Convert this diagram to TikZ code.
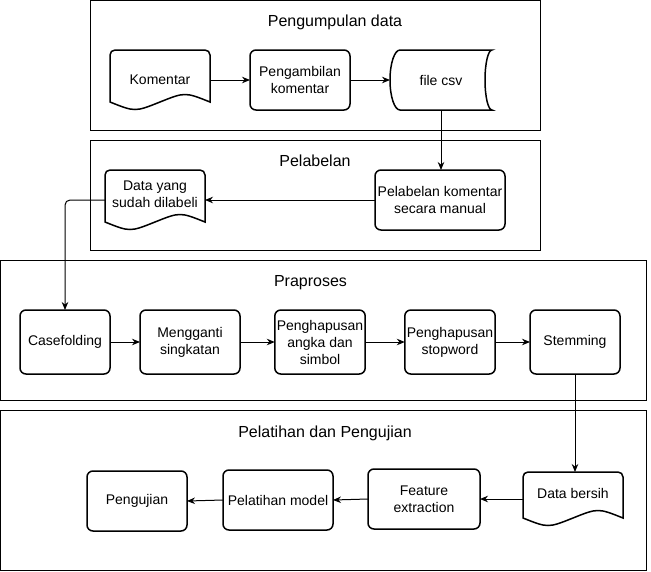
\documentclass[tikz,border=0pt]{standalone}
\usepackage{fontspec}
\setmainfont{Liberation Sans}
\usepackage{tikz}
\usetikzlibrary{calc, arrows.meta}
\tikzset{
  every node/.append style={font=\fontsize{14pt}{17pt}\selectfont},
  proses/.style={draw, line width=1.5pt, rounded corners=6pt, align=center, inner sep=2pt, outer sep=0pt},
  dokumen/.style={align=center, inner sep=2pt, outer sep=0pt},
  judul/.style={font=\fontsize{16pt}{19pt}\selectfont, anchor=base},
  garis/.style={line width=1.5pt},
  kelompok/.style={line width=1pt},
}
% outline of a document shape with wavy bottom
\newcommand{\gambardokumen}[1]{%
  \draw[garis] ([yshift=8pt]#1.south west) [rounded corners=5pt] -- (#1.north west) -- (#1.north east) [sharp corners] -- ([yshift=8pt]#1.south east)
    .. controls ($(#1.south east)!0.25!(#1.south west)+(0,18pt)$) .. ($(#1.south)+(0,8pt)$)
    .. controls ($(#1.south east)!0.75!(#1.south west)+(0,-2pt)$) .. cycle;
}

\begin{document}
\begin{tikzpicture}[x=1pt, y=-1pt, >={Stealth[length=8pt, width=6.5pt]}]
    \useasboundingbox (0,0) rectangle (651,571);
    % group boxes
    \draw[kelompok] (90.5,0.5) rectangle (540,130);
    \draw[kelompok] (90.5,140) rectangle (540,250);
    \draw[kelompok] (0.5,260) rectangle (646,400);
    \draw[kelompok] (0.5,410) rectangle (646,570);
    \node[judul] (tkumpul) at (335,26.5) {Pengumpulan data};
    \node[judul] (tlabel) at (315,166.5) {Pelabelan};
    \node[judul] (tpra) at (310.5,286.5) {Praproses};
    \node[judul] (tlatih) at (325,437) {Pelatihan dan Pengujian};
    % Pengumpulan data
    \node[dokumen, minimum width=100pt, minimum height=60pt] (kom) at (160,80) {Komentar};
    \gambardokumen{kom}
    \node[proses, minimum width=100pt, minimum height=60pt] (ambil) at (300,80) {Pengambilan\\komentar};
    \node[dokumen, minimum width=102pt, minimum height=60pt] (csv) at (441,80) {file csv};
    \draw[garis] ([xshift=10pt]csv.north west) -- (csv.north east)
        arc[start angle=90, end angle=270, x radius=7pt, y radius=30pt]
        -- ([xshift=10pt]csv.south west)
        arc[start angle=270, end angle=90, x radius=10pt, y radius=30pt] -- cycle;
    % Pelabelan
    \node[proses, minimum width=130pt, minimum height=60pt] (manual) at (440,200) {Pelabelan komentar\\secara manual};
    \node[dokumen, minimum width=100pt, minimum height=60pt, text depth=12pt] (dilabeli) at (155,200) {Data yang\\sudah dilabeli};
    \gambardokumen{dilabeli}
    % Praproses
    \node[proses, minimum width=90pt, minimum height=64pt] (casef) at (65,342) {Casefolding};
    \node[proses, minimum width=100pt, minimum height=64pt] (ganti) at (190,342) {Mengganti\\singkatan};
    \node[proses, minimum width=90pt, minimum height=64pt] (angka) at (320,342) {Penghapusan\\angka dan\\simbol};
    \node[proses, minimum width=90pt, minimum height=64pt] (stopw) at (450,342) {Penghapusan\\stopword};
    \node[proses, minimum width=90pt, minimum height=64pt] (stem) at (575,342) {Stemming};
    % Pelatihan dan Pengujian
    \node[dokumen, minimum width=100pt, minimum height=54pt, text depth=12pt] (bersih) at (573,499) {Data bersih};
    \gambardokumen{bersih}
    \node[proses, minimum width=112pt, minimum height=60pt] (fitur) at (424,499) {Feature\\extraction};
    \node[proses, minimum width=110pt, minimum height=60pt] (latih) at (278,500) {Pelatihan model};
    \node[proses, minimum width=100pt, minimum height=60pt] (uji) at (137,501) {Pengujian};
    % connectors
    \draw[->, line width=1pt] (kom.east) -- (ambil.west);
    \draw[->, line width=1pt] (ambil.east) -- (csv.west);
    \draw[->, line width=1pt] (csv.south) -- (csv.south |- manual.north);
    \draw[->, line width=1pt] (manual.west) -- (dilabeli.east);
    \draw[->, line width=1pt, rounded corners=5pt] (dilabeli.west) -| (casef.north);
    \draw[->, line width=1pt] (casef.east) -- (ganti.west);
    \draw[->, line width=1pt] (ganti.east) -- (angka.west);
    \draw[->, line width=1pt] (angka.east) -- (stopw.west);
    \draw[->, line width=1pt] (stopw.east) -- (stem.west);
    \draw[->, line width=1pt] (stem.south) -- (stem.south |- bersih.north);
    \draw[->, line width=1pt] (bersih.west) -- (fitur.east);
    \draw[->, line width=1pt] (fitur.west) -- (latih.east);
    \draw[->, line width=1pt] (latih.west) -- (uji.east);
\end{tikzpicture}
\end{document}
